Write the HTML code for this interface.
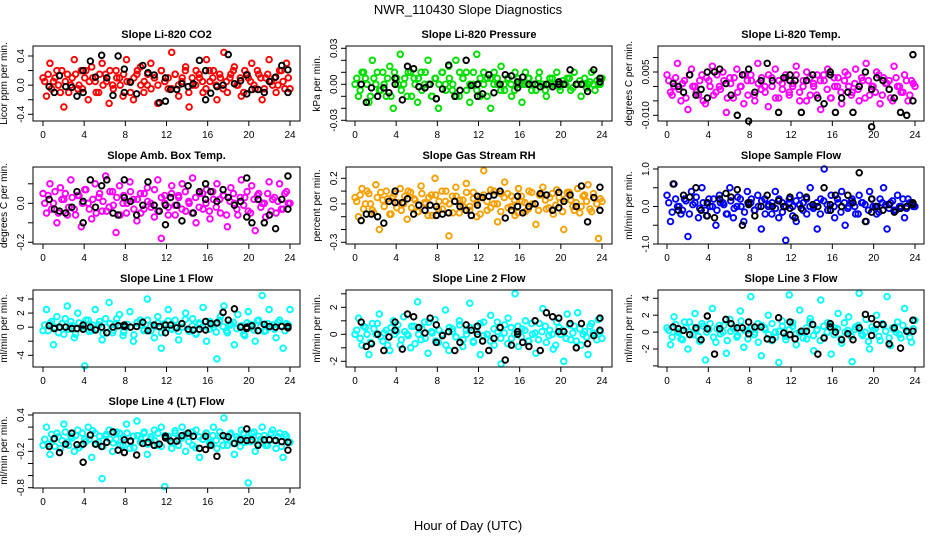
<!DOCTYPE html>
<html><head><meta charset="utf-8">
<style>
body{margin:0;background:#fff;}
svg{display:block;font-family:"Liberation Sans",sans-serif;}
</style></head>
<body>
<svg id="chart" width="936" height="540" viewBox="0 0 936 540" xmlns="http://www.w3.org/2000/svg">
<rect width="936" height="540" fill="#fff"/>
<text x="468" y="14" text-anchor="middle" font-size="13">NWR_110430  Slope Diagnostics</text>
<text x="468" y="530" text-anchor="middle" font-size="13">Hour of Day (UTC)</text>
<g id="panels"></g>
</svg>
<script>
// Shared hours for black (highlighted) points
const blackHours = [0.6,1.1,1.6,2.2,2.8,3.3,3.9,3.9,4.6,5.1,5.7,6.2,6.8,7.3,7.9,7.9,8.5,9.1,9.7,10.2,10.8,11.3,11.9,11.9,12.4,13,13.5,14.1,14.6,15.2,15.8,15.8,16.3,16.9,17.5,18,18.6,19.2,19.8,19.8,20.3,20.9,21.5,22,22.6,23.2,23.8,23.8];
const xTicks = [0,4,8,12,16,20,24];

const co2Vals = [0.1,-0.15,0.3,0.05,0.2,-0.1,-0.3,0.15,0.0,0.35,-0.05,0.2,0.1,-0.2,0.25,0.05,-0.1,0.3,0.15,-0.25,0.0,0.2,0.1,-0.15,0.35,0.05,-0.2,0.15,0.25,-0.1,0.0,0.3,0.1,-0.25,0.2,0.05,-0.05,0.45,0.15,-0.15,0.1,0.25,-0.3,0.0,0.2,0.1,-0.1,0.35,0.05,0.2,-0.2,0.1,0.45,-0.1,0.15,0.25,0.0,-0.15,0.2,0.1,0.3,-0.05,0.15,-0.2,0.1,0.35,0.0,-0.1,0.2,0.05,0.3,-0.05];
const co2Core = [0.05,0.15,-0.05,0.1,0.0,0.2,0.05,-0.1,0.1,0.15,0.0,-0.05,0.2,0.05,0.1,-0.1,0.15,0.0,0.05,0.2,-0.05,0.1,0.0,0.15,0.05,-0.1,0.1,0.2,0.0,0.05,0.15,-0.05,0.1,0.0,0.2,0.05,0.1,-0.05,0.15,0.0,0.05,0.2,-0.1,0.1,0.0,0.15,0.05,-0.05,0.2,0.1,0.0,0.15,-0.05,0.05,0.1,0.2,0.0,0.1,-0.1,0.15,0.05,0.0,0.2,0.1,-0.05,0.15,0.05,0.1,0.0,0.2,-0.05,0.1];
const co2Black = [-0.02,-0.1,0.13,-0.02,-0.03,-0.15,0.2,-0.1,0.33,0.11,0.41,0.1,-0.14,0.4,0.22,-0.1,0.04,-0.12,0.27,0.17,0.14,-0.24,0.1,-0.22,-0.06,-0.06,0.02,-0.02,0.02,0.34,0.2,-0.2,-0.11,-0.02,0.0,0.42,0.02,0.06,0.14,-0.12,-0.06,-0.06,-0.1,0.05,0.11,0.27,0.21,-0.1];

const presVals = [0.0,-0.01,0.01,0.005,-0.015,0.02,0.0,-0.005,0.01,-0.01,0.015,-0.02,0.005,0.025,0.0,-0.01,0.01,0.005,-0.015,0.01,0.0,0.02,-0.01,0.005,-0.02,0.01,0.0,0.015,-0.005,0.02,-0.01,0.005,0.01,-0.015,0.0,0.025,-0.01,0.01,0.005,-0.02,0.01,0.0,0.015,-0.005,0.005,-0.01,0.01,0.0,-0.015,0.01,0.005,0.0,-0.005,0.01,0.0,-0.01,0.005,0.0,0.01,-0.005,0.0,0.005,-0.005,0.01,0.0,-0.01,0.005,0.0,0.01,-0.005,0.0,0.005];
const presCore = [0.005,-0.005,0.01,0.0,-0.01,0.005,0.01,-0.005,0.0,0.005,-0.01,0.01,0.0,-0.005,0.005,0.01,-0.01,0.0,0.005,-0.005,0.01,0.0,-0.01,0.005,0.0,0.01,-0.005,0.005,0.0,-0.01,0.01,0.005,-0.005,0.0,0.01,-0.005,0.005,0.0,-0.01,0.005,0.0,0.005,-0.005,0.0,0.005,0.0,-0.005,0.005,0.0,0.0,0.005,-0.005,0.0,0.005,0.0,-0.005,0.0,0.005,0.0,-0.002,0.003,0.0,0.005,-0.003,0.0,0.003,0.0,-0.003,0.002,0.0,0.003,0.0];
const presBlack = [0.0,-0.015,-0.003,-0.01,-0.003,-0.007,0.005,0.0,-0.013,0.015,0.013,-0.002,-0.003,0.0,-0.012,-0.012,-0.004,0.016,-0.01,-0.005,0.02,-0.001,0.0,-0.01,-0.008,0.008,-0.007,0.0,0.008,0.007,0.002,-0.003,0.006,0.0,0.0,-0.002,0.0,-0.002,0.002,0.0,0.0,0.012,0.0,0.0,-0.006,0.012,0.005,0.002];

const tempVals = [0.004,-0.002,0.0,0.008,-0.005,0.002,-0.008,0.006,0.0,-0.003,0.004,-0.006,0.002,0.007,-0.002,0.0,0.005,-0.009,0.003,-0.004,0.006,0.0,-0.006,0.002,0.004,-0.003,0.008,-0.001,0.0,-0.007,0.003,0.006,-0.004,0.001,0.004,-0.002,0.0,0.007,-0.005,0.002,0.005,-0.003,0.0,0.004,-0.008,0.002,0.006,-0.004,0.0,0.003,-0.006,0.005,0.0,-0.002,0.006,-0.005,0.002,0.008,-0.003,0.0,0.005,-0.006,0.003,0.001,-0.004,0.007,0.0,-0.002,0.004,-0.005,0.002,0.0];
const tempCore = [0.002,-0.003,0.003,-0.001,0.001,-0.004,0.004,0.0,-0.002,0.002,-0.005,0.003,0.0,-0.003,0.004,-0.001,0.002,-0.004,0.001,0.003,-0.002,0.0,0.004,-0.003,0.002,-0.005,0.001,0.003,-0.002,0.004,0.0,-0.004,0.002,-0.001,0.003,-0.003,0.001,0.004,-0.002,0.0,-0.005,0.003,0.001,-0.003,0.002,0.004,-0.001,-0.004,0.003,0.0,-0.002,0.002,0.004,-0.003,0.001,-0.001,0.003,-0.004,0.002,0.0,-0.002,0.004,-0.003,0.001,0.002,-0.005,0.003,0.0,-0.002,0.002,-0.003,0.001];
const tempBlack = [0.001,0.0,-0.002,0.004,-0.003,-0.001,0.005,-0.004,0.005,0.006,0.001,-0.003,-0.010,0.004,0.006,-0.012,-0.002,0.002,0.008,0.002,-0.009,0.003,0.004,0.002,0.002,-0.009,0.002,0.004,-0.004,-0.006,0.005,0.004,-0.009,-0.004,-0.002,-0.009,0.0,0.005,-0.014,-0.001,0.003,0.002,-0.001,-0.004,-0.009,-0.010,0.011,-0.005];

const ambVals = [0.05,-0.05,0.1,0.0,-0.1,0.08,0.02,-0.06,0.12,-0.03,0.04,-0.12,0.07,0.0,-0.08,0.1,0.03,-0.04,0.14,-0.02,0.06,-0.15,0.09,0.0,-0.05,0.11,0.02,-0.09,0.05,-0.03,0.08,0.0,-0.07,0.12,-0.18,0.04,-0.02,0.09,-0.06,0.03,0.1,-0.04,0.0,0.13,-0.1,0.05,-0.03,0.07,-0.08,0.02,0.1,-0.05,0.04,-0.12,0.08,0.0,-0.06,0.12,0.03,-0.04,0.09,-0.14,0.05,0.0,-0.07,0.11,0.02,-0.05,0.1,-0.03,0.06,0.0];
const ambCore = [0.0,0.04,-0.03,0.06,-0.05,0.02,0.05,-0.02,0.03,-0.06,0.04,0.0,0.07,-0.03,0.02,-0.05,0.05,0.01,-0.04,0.06,-0.01,0.03,-0.06,0.04,0.0,0.06,-0.03,0.02,-0.05,0.05,0.01,-0.02,0.07,-0.04,0.03,0.0,-0.06,0.05,-0.01,0.04,-0.03,0.06,0.01,-0.05,0.03,-0.02,0.05,0.0,-0.04,0.06,-0.02,0.02,0.04,-0.06,0.01,0.05,-0.03,0.03,-0.01,0.06,-0.05,0.02,0.04,-0.02,0.0,0.05,-0.04,0.03,0.01,-0.03,0.05,0.0];
const ambBlack = [0.02,-0.03,-0.04,-0.05,-0.02,0.06,0.01,-0.1,0.12,-0.02,0.09,0.12,-0.05,-0.06,0.03,0.12,0.01,-0.06,-0.01,0.11,-0.01,-0.04,-0.01,-0.11,0.03,-0.01,-0.09,0.09,-0.05,0.06,0.02,0.1,0.06,0.01,0.07,0.03,-0.01,0.01,-0.07,0.13,-0.1,0.02,-0.1,-0.06,-0.13,0.02,0.14,-0.03];

const rhVals = [0.05,-0.1,0.12,0.0,0.08,-0.05,0.15,-0.2,0.03,0.1,-0.08,0.06,-0.03,0.12,0.0,-0.12,0.09,0.04,-0.06,0.14,0.01,-0.09,0.07,0.2,-0.04,0.1,0.02,-0.25,0.06,0.13,-0.07,0.03,0.16,-0.02,0.09,-0.1,0.05,0.26,-0.05,0.11,0.0,-0.14,0.08,0.17,-0.03,0.06,-0.09,0.12,0.02,-0.06,0.1,0.0,-0.16,0.07,0.13,-0.04,0.05,-0.08,0.11,0.01,-0.2,0.09,0.03,-0.05,0.12,-0.02,0.07,0.15,-0.06,0.04,-0.27,0.02];
const rhCore = [0.02,0.07,-0.04,0.1,0.0,-0.07,0.05,0.09,-0.02,0.04,-0.08,0.08,0.01,-0.05,0.06,0.1,-0.03,0.03,-0.06,0.08,0.0,0.05,-0.09,0.07,0.02,-0.04,0.1,0.0,-0.07,0.06,0.03,-0.02,0.09,-0.05,0.04,0.01,-0.08,0.07,0.02,-0.03,0.1,0.0,-0.06,0.05,0.08,-0.02,0.03,-0.07,0.06,0.01,-0.04,0.09,0.0,-0.05,0.07,0.03,-0.03,0.08,-0.01,0.05,-0.06,0.04,0.09,-0.02,0.01,-0.07,0.06,0.02,-0.04,0.08,0.0,0.04];
const rhBlack = [-0.13,-0.08,-0.08,-0.1,-0.15,0.02,0.1,0.01,0.01,0.04,-0.08,-0.01,-0.05,-0.01,-0.02,-0.09,-0.08,-0.07,0.02,-0.02,-0.05,-0.09,0.06,-0.01,0.05,0.06,0.07,0.1,-0.11,-0.05,0.06,-0.02,-0.07,-0.02,0.0,0.08,0.07,-0.05,0.09,-0.03,0.02,0.07,-0.02,0.14,-0.14,0.05,0.13,-0.05];

const sampVals = [0.3,-0.4,0.6,0.0,-0.2,0.2,-0.8,0.4,0.1,-0.3,0.5,-0.1,0.2,0.0,-0.5,0.3,0.1,-0.2,0.5,-0.3,0.0,0.2,-0.4,0.4,0.1,-0.1,0.3,-0.6,0.2,0.0,-0.2,0.4,-0.3,0.1,-0.9,0.2,0.0,-0.4,0.3,0.1,-0.2,0.5,0.0,-0.6,0.2,1.0,-0.1,0.3,-0.3,0.1,0.4,-0.5,0.0,0.2,-0.2,0.3,0.1,-0.4,0.4,0.0,-0.2,0.2,0.5,-0.6,0.1,-0.1,0.3,0.0,-0.3,0.2,0.1,0.0];
const sampCore = [0.1,-0.15,0.2,0.0,-0.1,0.15,-0.2,0.05,0.25,-0.05,0.1,-0.25,0.0,0.2,-0.1,0.1,0.05,-0.2,0.15,-0.05,0.25,0.0,-0.15,0.1,0.2,-0.1,0.0,0.15,-0.2,0.05,0.1,-0.05,0.2,-0.15,0.0,0.1,-0.25,0.15,0.05,-0.1,0.2,0.0,-0.05,0.1,-0.2,0.15,0.05,-0.1,0.0,0.2,-0.15,0.1,-0.05,0.15,0.0,-0.2,0.1,0.05,-0.1,0.2,0.0,-0.15,0.1,0.05,-0.05,0.15,-0.1,0.0,0.2,-0.05,0.1,0.0];
const sampBlack = [0.6,-0.1,0.3,0.25,0.5,-0.1,0.1,-0.25,-0.3,0.2,0.35,0.25,0.45,-0.5,0.1,0.05,-0.25,0.0,0.3,0.0,0.15,0.0,0.25,-0.05,-0.3,-0.05,0.25,0.05,0.0,0.5,0.05,-0.1,0.3,0.0,0.3,0.1,0.9,-0.4,0.2,-0.15,0.0,-0.1,0.05,-0.15,-0.05,0.0,0.05,0.1];

const l1Vals = [-0.5,2.5,0.5,-2.5,1.5,0.0,-1.0,3.0,0.8,-1.5,2.0,0.0,-5.5,1.0,-0.5,2.5,0.3,-1.8,1.2,3.5,-0.8,0.5,1.8,-1.2,0.0,2.2,-2.0,0.6,1.0,-0.5,4.0,0.2,-1.5,1.5,-3.0,0.5,2.5,-0.3,1.0,-1.8,0.0,2.0,-0.6,1.2,-1.0,0.4,2.8,-2.0,0.8,0.0,-4.5,1.5,3.0,-0.8,0.5,-2.5,1.8,0.2,-1.2,2.2,0.0,-2.0,1.0,4.5,-0.5,2.5,0.3,-1.5,1.0,-3.0,0.5,2.5];
const l1Core = [0.3,-0.5,0.8,0.0,-0.8,0.5,1.2,-0.3,0.2,-1.0,0.6,0.0,1.0,-0.6,0.3,-0.2,0.8,-0.9,0.0,0.5,-0.4,1.2,0.2,-0.7,0.4,0.0,-1.1,0.7,0.3,-0.3,1.0,-0.5,0.1,0.6,-0.8,0.2,0.9,-0.2,0.0,-0.6,0.5,1.1,-0.4,0.2,-0.9,0.6,0.0,0.8,-0.3,0.4,-0.7,1.0,0.1,-0.5,0.3,0.7,-0.2,0.0,-1.0,0.6,0.4,-0.4,0.9,0.1,-0.6,0.5,0.0,-0.3,0.7,0.2,-0.5,0.3];
const l1Black = [0.2,-0.2,0.0,0.0,-0.2,-0.2,0.3,-0.3,0.0,-0.4,0.0,-0.8,0.0,0.2,0.3,0.1,0.0,0.1,0.7,-0.5,0.3,0.1,0.3,-0.8,0.3,-0.1,0.5,-0.3,-0.4,-0.3,0.8,-0.4,0.5,0.6,2.1,1.0,2.6,0.0,0.0,-0.2,0.2,-0.5,0.4,0.1,0.0,0.1,0.1,-0.1];

const l2Vals = [0.0,1.2,-0.8,0.5,-1.5,0.8,0.0,1.5,-0.5,0.3,-1.2,1.0,0.2,-0.8,1.3,0.0,-1.0,0.6,2.4,-0.4,0.9,-1.4,0.2,1.1,-0.6,0.0,1.8,-1.2,0.4,-0.2,1.0,-0.9,0.3,2.3,-0.5,0.6,-1.5,0.9,0.0,1.4,-0.8,0.2,-2.2,0.7,1.2,-0.3,3.0,-0.9,0.4,1.0,-0.5,0.0,-1.4,0.8,1.9,-0.6,0.3,-1.1,0.9,0.0,-2.0,1.5,-0.4,0.6,1.6,-0.8,0.2,-1.5,0.8,0.0,1.1,-0.3];
const l2Core = [0.3,-0.3,0.6,0.0,-0.6,0.4,0.8,-0.2,0.1,-0.8,0.5,0.0,0.7,-0.4,0.2,-0.1,0.6,-0.7,0.0,0.4,-0.3,0.9,0.1,-0.5,0.3,0.0,-0.8,0.5,0.2,-0.2,0.7,-0.4,0.0,0.5,-0.6,0.2,0.8,-0.1,0.0,-0.5,0.4,0.9,-0.3,0.1,-0.7,0.5,0.0,0.6,-0.2,0.3,-0.5,0.8,0.1,-0.4,0.2,0.6,-0.1,0.0,-0.8,0.5,0.3,-0.3,0.7,0.1,-0.5,0.4,0.0,-0.2,0.6,0.1,-0.4,0.2];
const l2Black = [0.9,-0.9,-0.7,0.0,-1.2,-0.2,0.9,0.3,-1.1,1.5,1.3,0.5,0.1,1.2,0.7,-0.6,-0.1,0.2,-1.2,-0.6,0.7,0.3,0.0,0.6,-0.5,-1.2,-0.3,0.5,-1.9,-0.8,0.0,0.2,-0.6,-0.9,1.0,-1.2,1.6,1.3,1.2,0.2,0.2,0.8,-1.0,0.8,-0.7,-0.1,1.2,0.3];

const l3Vals = [0.5,-1.5,1.8,0.0,-0.8,1.2,-2.0,0.6,2.2,-0.5,1.0,-3.3,0.3,2.8,-1.2,0.8,0.0,-2.5,1.5,0.4,-0.6,2.5,-1.8,0.2,4.2,-0.3,1.0,-2.8,0.5,2.0,-1.0,0.0,-3.6,1.3,-0.5,4.4,0.7,-1.5,2.6,0.0,-0.8,1.6,-2.2,0.3,3.8,-0.6,1.1,-2.6,0.5,2.2,-1.3,0.0,1.8,-3.5,0.6,4.6,-0.4,1.5,-2.0,0.2,2.0,-1.0,0.8,4.2,-1.6,0.3,1.2,-0.7,2.8,0.0,-1.2,1.4];
const l3Core = [0.2,-0.6,0.9,0.0,-0.9,0.5,1.2,-0.3,0.3,-1.1,0.7,0.0,1.0,-0.6,0.4,-0.2,0.8,-1.0,0.1,0.6,-0.4,1.3,0.2,-0.8,0.5,0.0,-1.2,0.8,0.3,-0.3,1.0,-0.6,0.1,0.7,-0.9,0.3,1.1,-0.2,0.0,-0.7,0.5,1.2,-0.4,0.2,-1.0,0.7,0.0,0.9,-0.3,0.4,-0.8,1.1,0.2,-0.5,0.3,0.8,-0.2,0.0,-1.1,0.6,0.4,-0.5,1.0,0.1,-0.7,0.5,0.0,-0.3,0.8,0.2,-0.6,0.4];
const l3Black = [0.6,0.4,0.2,-0.3,0.5,-0.9,1.9,0.4,-2.6,0.4,1.5,1.0,0.5,0.5,-0.2,1.2,0.6,0.6,-0.8,-0.9,1.7,-0.1,-0.3,1.2,-0.8,0.1,0.1,0.9,-2.6,-0.7,0.6,1.0,0.0,-0.9,-0.2,-0.9,0.5,2.1,-0.4,1.6,0.9,0.9,-1.4,0.5,-1.9,0.1,1.4,0.1];

const l4Vals = [-0.1,0.2,-0.25,0.0,0.1,-0.15,0.25,-0.05,0.05,-0.2,0.15,-0.1,0.0,0.2,-0.3,0.1,-0.05,-0.65,0.05,0.15,-0.2,0.0,0.1,-0.1,0.25,-0.15,0.05,0.3,-0.05,0.1,-0.25,0.0,0.15,-0.1,0.2,-0.78,0.05,-0.15,0.1,0.0,0.2,-0.2,0.05,-0.1,0.15,-0.3,0.0,0.1,-0.05,0.2,-0.15,0.05,0.35,-0.1,0.1,-0.25,0.0,0.15,-0.05,-0.72,0.1,-0.2,0.05,0.2,-0.1,0.0,0.15,-0.15,0.1,-0.3,0.05,-0.05];
const l4Core = [0.0,-0.08,0.08,-0.12,0.04,-0.02,0.12,-0.1,0.02,0.06,-0.14,0.1,-0.04,0.0,0.14,-0.08,0.05,-0.12,0.08,0.0,-0.06,0.12,-0.1,0.03,0.1,-0.04,-0.14,0.06,0.0,0.12,-0.08,0.04,-0.02,0.1,-0.12,0.06,0.0,-0.06,0.14,-0.1,0.02,0.08,-0.04,0.12,-0.14,0.04,0.0,0.1,-0.08,0.06,-0.02,0.12,-0.1,0.0,0.08,-0.06,0.04,-0.12,0.1,0.02,-0.04,0.12,-0.08,0.0,0.06,-0.1,0.1,-0.02,0.04,-0.12,0.08,-0.04];
const l4Black = [-0.12,0.01,-0.22,-0.08,0.1,-0.09,-0.08,-0.38,0.07,-0.08,-0.12,-0.05,0.12,-0.18,-0.22,-0.01,-0.03,-0.26,-0.07,-0.05,-0.1,-0.08,0.05,0.02,-0.03,-0.03,0.06,0.1,0.05,-0.15,-0.17,0.05,-0.1,-0.28,0.06,0.04,-0.07,-0.01,0.17,-0.02,-0.01,-0.1,-0.01,-0.01,-0.02,-0.04,-0.05,-0.18];

const cols = [{l:33,r:300,x0:43,x24:290},{l:346,r:612,x0:355,x24:602},{l:658,r:924,x0:667,x24:915}];
const rows = [{t:46,b:121},{t:167,b:244},{t:290,b:367},{t:413,b:488}];

const panels = [
 {c:0,r:0,name:'co2',title:'Slope Li-820 CO2',ylab:'Licor ppm per min.',color:'#ff0000',vals:co2Vals,core:co2Core,black:co2Black,m:[0.4,56,-0.4,114.3],ticks:[-0.4,-0.2,0,0.2,0.4],labels:['-0.4','0.0','0.4'],lv:[-0.4,0,0.4]},
 {c:1,r:0,name:'pressure',title:'Slope Li-820 Pressure',ylab:'kPa per min.',color:'#00e000',vals:presVals,core:presCore,black:presBlack,m:[0.03,48.3,-0.03,120.3],ticks:[-0.03,-0.02,-0.01,0,0.01,0.02,0.03],labels:['-0.03','0.00','0.03'],lv:[-0.03,0,0.03]},
 {c:2,r:0,name:'temp',title:'Slope Li-820 Temp.',ylab:'degrees C per min.',color:'#ff00ff',vals:tempVals,core:tempCore,black:tempBlack,m:[0.005,72,-0.01,115.3],ticks:[-0.01,-0.005,0,0.005,0.01],labels:['-0.010','0.005'],lv:[-0.01,0.005]},
 {c:0,r:1,name:'amb-box-temp',title:'Slope Amb. Box Temp.',ylab:'degrees C per min.',color:'#ff00ff',vals:ambVals,core:ambCore,black:ambBlack,m:[0,203.3,-0.2,242.3],ticks:[-0.2,-0.1,0,0.1],labels:['-0.2','0.0'],lv:[-0.2,0]},
 {c:1,r:1,name:'gas-stream-rh',title:'Slope Gas Stream RH',ylab:'percent per min.',color:'#f8a000',vals:rhVals,core:rhCore,black:rhBlack,m:[0.2,178.3,-0.3,242.3],ticks:[-0.3,-0.2,-0.1,0,0.1,0.2],labels:['-0.3','0.0','0.2'],lv:[-0.3,0,0.2]},
 {c:2,r:1,name:'sample-flow',title:'Slope Sample Flow',ylab:'ml/min per min.',color:'#0000ff',vals:sampVals,core:sampCore,black:sampBlack,m:[1,169,-1,244],ticks:[-1,-0.5,0,0.5,1],labels:['-1.0','0.0','1.0'],lv:[-1,0,1]},
 {c:0,r:2,name:'line1-flow',title:'Slope Line 1 Flow',ylab:'ml/min per min.',color:'#00ffff',vals:l1Vals,core:l1Core,black:l1Black,m:[4,299,-4,355.3],ticks:[-4,-2,0,2,4],labels:['-4','0','2','4'],lv:[-4,0,2,4]},
 {c:1,r:2,name:'line2-flow',title:'Slope Line 2 Flow',ylab:'ml/min per min.',color:'#00ffff',vals:l2Vals,core:l2Core,black:l2Black,m:[2,307.3,-2,361.3],ticks:[-2,-1,0,1,2,3],labels:['-2','0','2'],lv:[-2,0,2]},
 {c:2,r:2,name:'line3-flow',title:'Slope Line 3 Flow',ylab:'ml/min per min.',color:'#00ffff',vals:l3Vals,core:l3Core,black:l3Black,m:[4,298.3,-2,349],ticks:[-4,-2,0,2,4],labels:['-2','0','2','4'],lv:[-2,0,2,4]},
 {c:0,r:3,name:'line4-flow',title:'Slope Line 4 (LT) Flow',ylab:'ml/min per min.',color:'#00ffff',vals:l4Vals,core:l4Core,black:l4Black,m:[0.4,415,-0.8,487.7],ticks:[-0.8,-0.6,-0.4,-0.2,0,0.2,0.4],labels:['-0.8','-0.2','0.4'],lv:[-0.8,-0.2,0.4]}
];

const NS='http://www.w3.org/2000/svg';
const root=document.getElementById('panels');
function mk(tag,attrs,parent){const e=document.createElementNS(NS,tag);for(const k in attrs)e.setAttribute(k,attrs[k]);parent.appendChild(e);return e;}

panels.forEach(p=>{
  const C=cols[p.c],R=rows[p.r];
  const xs=h=>C.x0+(C.x24-C.x0)*h/24;
  const ys=v=>p.m[1]+(v-p.m[0])*(p.m[3]-p.m[1])/(p.m[2]-p.m[0]);
  const g=mk('g',{},root);
  
  
  const t=mk('text',{x:(C.l+C.r)/2,y:R.t-8,'text-anchor':'middle','font-size':'11','font-weight':'bold'},g);
  t.textContent=p.title;
  
  
  const cx=C.l-26, cy=(R.t+R.b)/2;
  const yl=mk('text',{x:cx,y:cy,'text-anchor':'middle','font-size':'10',transform:`rotate(-90 ${cx} ${cy})`},g);
  yl.textContent=p.ylab;
  
  
  const pg=mk('g',{fill:'none','stroke-width':'1.9'},g);
  
  
  const n=p.vals.length;
  p.vals.forEach((v,i)=>{
    const c=mk('circle',{cx:xs(i*24/(n-1)),cy:ys(v),r:2.8,stroke:p.color},pg);
    
    
  });
  const nc=p.core.length;
  p.core.forEach((v,i)=>{
    const c=mk('circle',{cx:xs((i+0.5)*24/nc),cy:ys(v),r:2.8,stroke:p.color},pg);
    
    
  });
  const bg=mk('g',{fill:'none','stroke-width':'1.9',stroke:'#000'},g);
  
  
  const m=Math.min(blackHours.length,p.black.length);
  for(let i=0;i<m;i++){
    const c=mk('circle',{cx:xs(blackHours[i]),cy:ys(p.black[i]),r:2.8},bg);
    
    
  }
  const b=mk('rect',{x:C.l,y:R.t,width:C.r-C.l,height:R.b-R.t,fill:'none',stroke:'#000','stroke-width':'1'},g);
  
  
  const xa=mk('g',{},g);
  
  
  mk('line',{x1:xs(0),x2:xs(24),y1:R.b,y2:R.b,stroke:'#000'},xa);
  xTicks.forEach(h=>{
    mk('line',{x1:xs(h),x2:xs(h),y1:R.b,y2:R.b+5,stroke:'#000'},xa);
    const tl=mk('text',{x:xs(h),y:R.b+17,'text-anchor':'middle','font-size':'10'},xa);
    tl.textContent=String(h);
  });
  const ya=mk('g',{},g);
  
  
  const tmin=Math.min(...p.ticks),tmax=Math.max(...p.ticks);
  mk('line',{x1:C.l,x2:C.l,y1:ys(tmin),y2:ys(tmax),stroke:'#000'},ya);
  p.ticks.forEach(v=>mk('line',{x1:C.l-5,x2:C.l,y1:ys(v),y2:ys(v),stroke:'#000'},ya));
  p.lv.forEach((v,i)=>{
    const lx=C.l-9, ly=ys(v);
    const tl=mk('text',{x:lx,y:ly,'text-anchor':'middle','font-size':'10',transform:`rotate(-90 ${lx} ${ly})`},ya);
    tl.textContent=p.labels[i];
  });
});
</script>
</body></html>
